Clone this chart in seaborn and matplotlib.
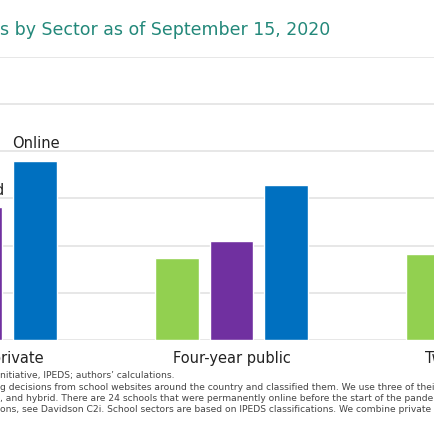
import numpy as np
import pandas as pd
import matplotlib
matplotlib.use("Agg")
import matplotlib.pyplot as plt
import seaborn as sns

# ---- data (NaN = not visible in the crop) ----
sectors = ["Four-year private", "Four-year public", "Two-year public"]
modes = ["In person", "Hybrid", "Online"]
in_person = [np.nan, 17.3, 18.2]
hybrid = [28.1, 20.9, np.nan]
online = [38.0, 32.8, np.nan]
yticks = [0, 10, 20, 30, 40, 50, 60]

title_text = "s by Sector as of September 15, 2020"
note_lines = [
    "nitiative, IPEDS; authors\u2019 calculations.",
    "g decisions from school websites around the country and classified them. We use three of their two categories",
    ", and hybrid. There are 24 schools that were permanently online before the start of the pandemic and",
    "ons, see Davidson C2i. School sectors are based on IPEDS classifications. We combine private nonprofit",
]

colors = {"In person": "#92D050", "Hybrid": "#7030A0", "Online": "#0070C0"}

rows = []
for i, s in enumerate(sectors):
    for m, vals in zip(modes, [in_person, hybrid, online]):
        rows.append({"sector": s, "mode": m, "value": vals[i]})
df = pd.DataFrame(rows)

sns.set_theme(style="white")

W = H = 435
fig = plt.figure(figsize=(4.35, 4.35), dpi=100)

# axes placed so that the crop shows the same region as the reference
x_lo, x_hi = -0.5, 2.5
left_px = 231.5 - 1.5 * 251.0
width_px = 3 * 251.0
ax = fig.add_axes([left_px / W, (H - 341) / H, width_px / W, (341 - 57.7) / H])

sns.barplot(data=df, x="sector", y="value", hue="mode", order=sectors,
            hue_order=modes, palette=colors, width=0.657, gap=0.2, saturation=1,
            ax=ax, legend=False, errorbar=None)

ax.set_xlim(x_lo, x_hi)
ax.set_ylim(0, 60)
ax.set_yticks(yticks)
ax.yaxis.grid(True, color="#e3e3e3", linewidth=1.2)
ax.set_axisbelow(True)
ax.tick_params(axis="y", length=0, labelleft=False)
ax.tick_params(axis="x", length=0, pad=7, labelsize=10.5, labelcolor="#222222")
for sp in ax.spines.values():
    sp.set_visible(False)
ax.set_xlabel("")
ax.set_ylabel("")

# series labels above the bars of the first sector
for container, m in zip(ax.containers, modes):
    for bar in container:
        h = bar.get_height()
        cx = bar.get_x() + bar.get_width() / 2
        if np.isfinite(h) and h > 0 and round(cx) == 0:
            ax.annotate(m, (cx, h), xytext=(0, 9.5), textcoords="offset points",
                        ha="center", va="baseline", fontsize=10.5, color="#222222",
                        annotation_clip=False)

fig.text(0.0, (H - 35) / H, title_text, ha="left", va="baseline",
         fontsize=12.5, color="#23887a")

for k, line in enumerate(note_lines):
    fig.text(0.0, (H - (376 + 11.3 * k)) / H, line, ha="left", va="center",
             fontsize=6.6, color="#444444")

fig.savefig("out.png", dpi=100)
